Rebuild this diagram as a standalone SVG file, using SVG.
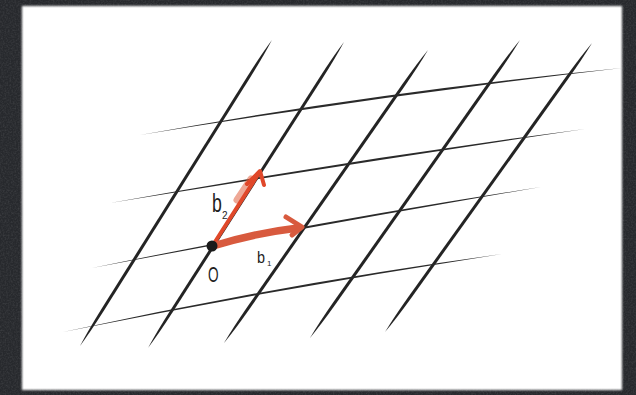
<svg xmlns="http://www.w3.org/2000/svg" width="636" height="395" viewBox="0 0 636 395">
<defs>
<filter id="noise" x="0" y="0" width="100%" height="100%">
<feTurbulence type="fractalNoise" baseFrequency="0.6" numOctaves="2" seed="4"/>
<feColorMatrix type="matrix" values="0 0 0 0 1  0 0 0 0 1  0 0 0 0 1  0.18 0 0 0 -0.07"/>
</filter>
<filter id="soft" x="-5%" y="-5%" width="110%" height="110%"><feGaussianBlur stdDeviation="1.1"/></filter>
<path id="dg" d="M0 0 Q5 -1.4 12 -1.5 L88 -1.5 Q95 -1.4 100 0 Q95 1.4 88 1.5 L12 1.5 Q5 1.4 0 0Z"/>
</defs>
<style>
.dg{fill:#242424}
.hz{fill:#2a2a2a}
.lbl{font-family:"Liberation Sans",Arial,sans-serif;fill:#1e1e1e}
.vec{fill:none;stroke-linecap:round;stroke-linejoin:round}
</style>
<g id="background">
<rect width="636" height="395" fill="#27292d"/>
<rect width="636" height="395" filter="url(#noise)"/>
<rect x="22" y="6" width="600" height="384" fill="#ffffff" filter="url(#soft)"/>
</g>
<g id="lattice">
<use href="#dg" class="dg" transform="translate(80,346) rotate(-57.9) scale(3.612,1)"/>
<use href="#dg" class="dg" transform="translate(148,348) rotate(-57.36) scale(3.634,1)"/>
<use href="#dg" class="dg" transform="translate(224,343) rotate(-55.15) scale(3.570,1)"/>
<use href="#dg" class="dg" transform="translate(310,338) rotate(-54.83) scale(3.646,1)"/>
<use href="#dg" class="dg" transform="translate(385,332) rotate(-54.38) scale(3.555,1)"/>
<path class="hz" d="M140 135 Q381 91.3 622 68 Q381 95.7 140 135Z"/>
<path class="hz" d="M110 203 Q347.5 160 585 129 Q347.5 164 110 203Z"/>
<path class="hz" d="M92 268 Q316.5 221.5 541 187 Q316.5 225.5 92 268Z"/>
<path class="hz" d="M63 332 Q282.5 284 502 254 Q282.5 288 63 332Z"/>
</g>
<g id="vector-b2">
<path class="vec" d="M237 200 L251 179" stroke="#e0603f" stroke-width="7" opacity="0.55"/>
<path class="vec" d="M213 245 L259 173" stroke="#e0482a" stroke-width="4"/>
<path class="vec" d="M247 184 L260 171 L264 185" stroke="#e0482a" stroke-width="4"/>
<text class="lbl" font-size="26" transform="translate(212,212) scale(0.68,1)">b</text>
<text class="lbl" font-size="10" x="222" y="219">2</text>
</g>
<g id="vector-b1">
<path class="vec" d="M213 246 Q255 233 298 228" stroke="#d85a3e" stroke-width="7.5"/>
<path class="vec" d="M286 217 L302 227 L292 235" stroke="#d85a3e" stroke-width="5"/>
<text class="lbl" font-size="16" transform="translate(257,263) scale(0.9,1)">b</text>
<text class="lbl" font-size="8" x="267" y="266">1</text>
</g>
<g id="origin">
<circle cx="212" cy="246" r="5.5" fill="#1a1a1a"/>
<text class="lbl" font-size="22" transform="translate(208,282) scale(0.62,1)">O</text>
</g>
</svg>
